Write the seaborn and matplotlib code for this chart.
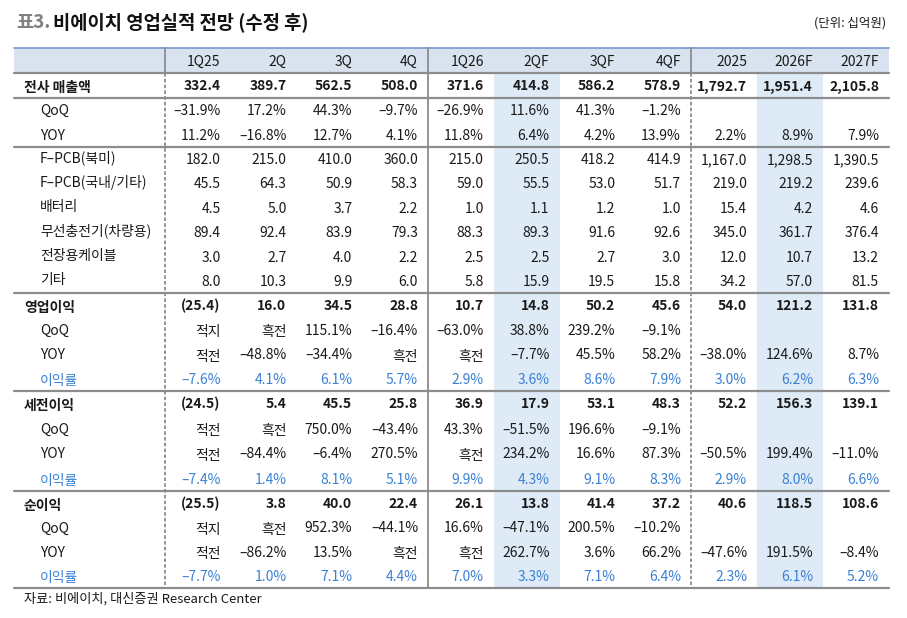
import matplotlib
matplotlib.use("Agg")
import matplotlib.pyplot as plt
import seaborn as sns

# column headers and row data (values as printed in the table)
columns = ["1Q25", "2Q", "3Q", "4Q", "1Q26", "2QF", "3QF", "4QF", "2025", "2026F", "2027F"]

sales = ["332.4", "389.7", "562.5", "508.0", "371.6", "414.8", "586.2", "578.9", "1,792.7", "1,951.4", "2,105.8"]
sales_qoq = ["–31.9%", "17.2%", "44.3%", "–9.7%", "–26.9%", "11.6%", "41.3%", "–1.2%", "", "", ""]
sales_yoy = ["11.2%", "–16.8%", "12.7%", "4.1%", "11.8%", "6.4%", "4.2%", "13.9%", "2.2%", "8.9%", "7.9%"]

fpcb_na = ["182.0", "215.0", "410.0", "360.0", "215.0", "250.5", "418.2", "414.9", "1,167.0", "1,298.5", "1,390.5"]
fpcb_dom = ["45.5", "64.3", "50.9", "58.3", "59.0", "55.5", "53.0", "51.7", "219.0", "219.2", "239.6"]
battery = ["4.5", "5.0", "3.7", "2.2", "1.0", "1.1", "1.2", "1.0", "15.4", "4.2", "4.6"]
wireless = ["89.4", "92.4", "83.9", "79.3", "88.3", "89.3", "91.6", "92.6", "345.0", "361.7", "376.4"]
cable = ["3.0", "2.7", "4.0", "2.2", "2.5", "2.5", "2.7", "3.0", "12.0", "10.7", "13.2"]
others = ["8.0", "10.3", "9.9", "6.0", "5.8", "15.9", "19.5", "15.8", "34.2", "57.0", "81.5"]

op = ["(25.4)", "16.0", "34.5", "28.8", "10.7", "14.8", "50.2", "45.6", "54.0", "121.2", "131.8"]
op_qoq = ["적지", "흑전", "115.1%", "–16.4%", "–63.0%", "38.8%", "239.2%", "–9.1%", "", "", ""]
op_yoy = ["적전", "–48.8%", "–34.4%", "흑전", "흑전", "–7.7%", "45.5%", "58.2%", "–38.0%", "124.6%", "8.7%"]
op_margin = ["–7.6%", "4.1%", "6.1%", "5.7%", "2.9%", "3.6%", "8.6%", "7.9%", "3.0%", "6.2%", "6.3%"]

pretax = ["(24.5)", "5.4", "45.5", "25.8", "36.9", "17.9", "53.1", "48.3", "52.2", "156.3", "139.1"]
pretax_qoq = ["적전", "흑전", "750.0%", "–43.4%", "43.3%", "–51.5%", "196.6%", "–9.1%", "", "", ""]
pretax_yoy = ["적전", "–84.4%", "–6.4%", "270.5%", "흑전", "234.2%", "16.6%", "87.3%", "–50.5%", "199.4%", "–11.0%"]
pretax_margin = ["–7.4%", "1.4%", "8.1%", "5.1%", "9.9%", "4.3%", "9.1%", "8.3%", "2.9%", "8.0%", "6.6%"]

net = ["(25.5)", "3.8", "40.0", "22.4", "26.1", "13.8", "41.4", "37.2", "40.6", "118.5", "108.6"]
net_qoq = ["적지", "흑전", "952.3%", "–44.1%", "16.6%", "–47.1%", "200.5%", "–10.2%", "", "", ""]
net_yoy = ["적전", "–86.2%", "13.5%", "흑전", "흑전", "262.7%", "3.6%", "66.2%", "–47.6%", "191.5%", "–8.4%"]
net_margin = ["–7.7%", "1.0%", "7.1%", "4.4%", "7.0%", "3.3%", "7.1%", "6.4%", "2.3%", "6.1%", "5.2%"]

# (label, values, kind): kind = main / sub / margin
sections = [
    [("전사 매출액", sales, "main")],
    [("QoQ", sales_qoq, "sub"), ("YOY", sales_yoy, "sub")],
    [("F–PCB(북미)", fpcb_na, "sub"), ("F–PCB(국내/기타)", fpcb_dom, "sub"),
     ("배터리", battery, "sub"), ("무선충전기(차량용)", wireless, "sub"),
     ("전장용케이블", cable, "sub"), ("기타", others, "sub")],
    [("영업이익", op, "main"), ("QoQ", op_qoq, "sub"), ("YOY", op_yoy, "sub"), ("이익률", op_margin, "margin")],
    [("세전이익", pretax, "main"), ("QoQ", pretax_qoq, "sub"), ("YOY", pretax_yoy, "sub"), ("이익률", pretax_margin, "margin")],
    [("순이익", net, "main"), ("QoQ", net_qoq, "sub"), ("YOY", net_yoy, "sub"), ("이익률", net_margin, "margin")],
]
highlight_cols = ["2QF", "2026F"]

sns.set_theme(style="white")
plt.rcParams["font.family"] = ["Noto Sans CJK KR", "DejaVu Sans"]

fig = plt.figure(figsize=(9.07, 6.18), dpi=100)
ax = fig.add_axes([0, 0, 1, 1])
ax.set_xlim(0, 907)
ax.set_ylim(618, 0)
ax.axis("off")

# layout
left, right = 14, 889
col_edges = [165 + i * 65.75 for i in range(9)] + [757, 823, 889]
head_top, head_bot = 48, 73
sec_edges = [73, 98, 147, 293, 391, 491, 588]
grid = "#8c8c8c"
txt = "#1a1a1a"
blue = "#3a80d4"
fs = 10
base = 5  # baseline offset from row centre


def hangul_shift(s):
    # hangul glyphs sit higher than digits on the same baseline
    return 1.5 if any("\uac00" <= ch <= "\ud7a3" for ch in s) else 0


# header background
ax.fill_between([left, right], head_top, head_bot, color="#d9e3f0", lw=0)
# highlighted forecast columns
for c in highlight_cols:
    i = columns.index(c)
    ax.fill_between([col_edges[i], col_edges[i + 1]], head_bot, sec_edges[-1], color="#deebf7", lw=0)

# title + unit
ax.text(16, 28, "표3.", fontsize=13.5, color="#808080", fontweight="bold", va="baseline")
ax.text(53, 28, "비에이치 영업실적 전망 (수정 후)", fontsize=13.5, color="#111111", fontweight="bold", va="baseline")
ax.text(886, 27, "(단위: 십억원)", fontsize=9, color=txt, ha="right", va="baseline")

# header text
for i, c in enumerate(columns):
    ax.text(col_edges[i + 1] - 10, (head_top + head_bot) / 2 + base, c, fontsize=fs, color=txt,
            ha="right", va="baseline")

# body
for s, rows in enumerate(sections):
    top, bot = sec_edges[s], sec_edges[s + 1]
    h = (bot - top) / len(rows)
    for r, (label, vals, kind) in enumerate(rows):
        y = top + h * (r + 0.5) + base
        color = blue if kind == "margin" else txt
        weight = "bold" if kind == "main" else "normal"
        lx = 24 if kind == "main" else 40
        ly = y - 3 if s == 2 else y
        ax.text(lx, ly + hangul_shift(label), label, fontsize=fs, color=color, fontweight=weight,
                ha="left", va="baseline")
        for i, v in enumerate(vals):
            if v:
                ax.text(col_edges[i + 1] - 10, y + hangul_shift(v), v, fontsize=fs, color=color,
                        fontweight=weight, ha="right", va="baseline")

# horizontal rules
ax.plot([left, right], [head_top, head_top], color="#7f9fd0", lw=1.3)
for y in sec_edges:
    ax.plot([left, right], [y, y], color=grid, lw=1.6)

# vertical rules: solid in header, dashed in body
for x, style in [(165, (0, (2, 1.2))), (428, "-"), (691, (0, (2, 1.2)))]:
    ax.plot([x, x], [head_top, head_bot], color=grid, lw=1.3)
    ax.plot([x, x], [head_bot, sec_edges[-1]], color=grid, lw=1.3, linestyle=style)

ax.text(24, 603, "자료: 비에이치, 대신증권 Research Center", fontsize=9.5, color=txt, ha="left", va="baseline")

fig.savefig("out.png", dpi=100)
